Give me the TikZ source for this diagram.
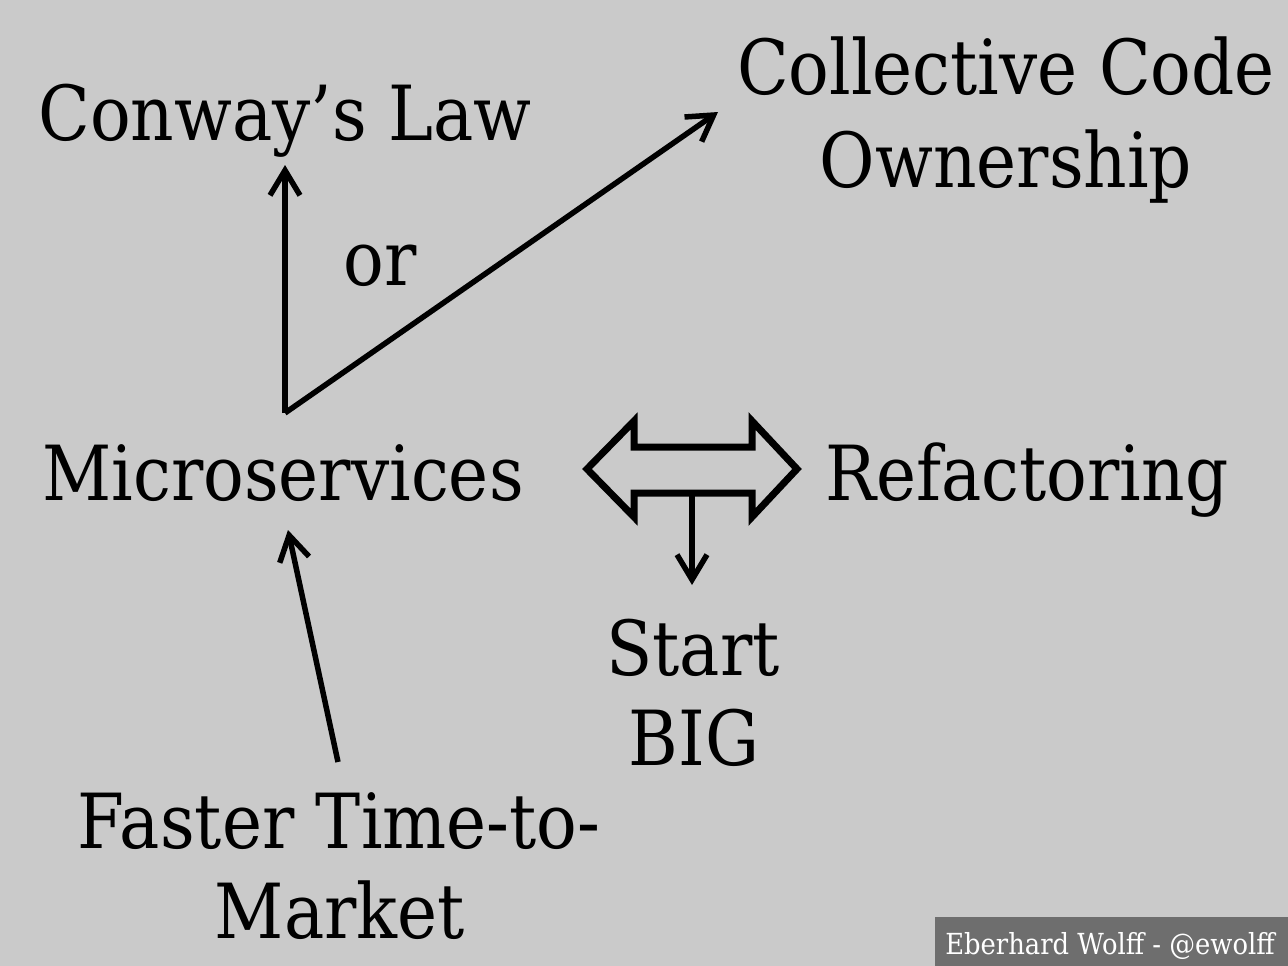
\documentclass[tikz,border=0pt]{standalone}
\usepackage{fontspec}
\setmainfont[FakeStretch=0.89]{DejaVu Serif}
\usetikzlibrary{arrows.meta,calc}
\definecolor{bg}{RGB}{202,202,202}
\definecolor{foot}{RGB}{110,110,110}
\tikzset{
  lbl/.style={anchor=base, inner sep=0pt, font=\fontsize{76}{76}\selectfont, text=black},
  arr/.style={line width=5.5pt, -{Straight Barb[length=25pt,width=30pt,line width=5.5pt]}},
}
\begin{document}
\begin{tikzpicture}[x=1pt,y=-1pt]
\useasboundingbox (0,0) rectangle (1288,966);
\fill[bg] (0,0) rectangle (1288,966);
% labels
\node[lbl] (conway) at (285,140) {Conway’s Law};
\node[lbl] (collective) at (1006,95) {Collective Code};
\node[lbl] (ownership) at (1006,187) {Ownership};
\node[lbl] (or) at (380,285) {or};
\node[lbl] (micro) at (283,500) {Microservices};
\node[lbl] (refac) at (1027,500) {Refactoring};
\node[lbl] (start) at (693,675) {Start};
\node[lbl] (big) at (694,765) {BIG};
\node[lbl] (faster) at (339,848) {Faster Time-to-};
\node[lbl] (market) at (340,938) {Market};
% connectors
\coordinate (j) at (285,413);
\coordinate (cwtip) at (285,165);
\coordinate (cctip) at (718,112);
\coordinate (fstart) at (338,762);
\coordinate (mtip) at (288,530);
\draw[arr] (j) -- (cwtip);
\draw[arr, line join=miter] (j) -- (cctip);
\draw[arr] (fstart) -- (mtip);
% double arrow
\draw[line width=7pt, line join=miter, miter limit=10]
  (587,469) -- (634,421) -- (634,447) -- (752,447) -- (752,421) -- (797,469)
  -- (752,517) -- (752,493) -- (634,493) -- (634,517) -- cycle;
\coordinate (dstart) at (692,493);
\coordinate (dtip) at (692,585);
\draw[arr] (dstart) -- (dtip);
% footer
\fill[foot] (935,917) rectangle (1288,966);
\node[anchor=base, inner sep=0pt, text=white, font=\fontsize{29}{29}\selectfont] (footer) at (1110,954) {Eberhard Wolff - @ewolff};
\end{tikzpicture}
\end{document}
